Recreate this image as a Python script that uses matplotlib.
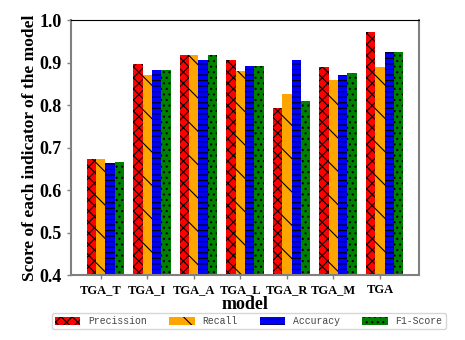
import matplotlib
matplotlib.use("Agg")
import matplotlib.pyplot as plt
import numpy as np

models = ["TGA_T", "TGA_I", "TGA_A", "TGA_L", "TGA_R", "TGA_M", "TGA"]
precision = [0.672, 0.896, 0.917, 0.907, 0.792, 0.889, 0.971]
recall = [0.672, 0.870, 0.917, 0.880, 0.825, 0.860, 0.889]
accuracy = [0.663, 0.882, 0.907, 0.893, 0.907, 0.870, 0.924]
f1_score = [0.665, 0.882, 0.917, 0.893, 0.809, 0.875, 0.926]

plt.rcParams["hatch.linewidth"] = 0.8

fig = plt.figure(figsize=(4.65, 3.4), dpi=100)
ax = fig.add_axes([0.1527, 0.191, 0.7484, 0.750])

x = np.arange(len(models))
width = 0.2
series = [
    (precision, "Precission", "red", "xxx"),
    (recall, "Recall", "orange", "\\"),
    (accuracy, "Accuracy", "blue", "---"),
    (f1_score, "F1-Score", "green", "..."),
]
for i, (vals, name, color, hatch) in enumerate(series):
    ax.bar(x + i * width, vals, width, color=color, hatch=hatch,
           edgecolor="black", linewidth=0, label=name)

ax.set_ylim(0.4, 1.0)
ax.set_xticks(x + width)
ax.set_xticklabels(models, fontsize=9, fontweight="bold", family="Liberation Serif")
ax.set_yticks([0.4, 0.5, 0.6, 0.7, 0.8, 0.9, 1.0])
ax.set_yticklabels([f"{v:.1f}" for v in ax.get_yticks()], fontsize=13,
                   fontweight="bold", family="Liberation Serif")
ax.set_xlabel("model", fontsize=13, fontweight="bold", family="Liberation Serif", labelpad=0)
ax.set_ylabel("Score of each indicator of the model", fontsize=12.5,
              fontweight="bold", family="Liberation Serif", labelpad=1)

for side in ["left", "right", "bottom"]:
    ax.spines[side].set_color("gray")
    ax.spines[side].set_linewidth(1.5)
ax.spines["top"].set_color("black")
ax.tick_params(axis="both", colors="gray", length=3, width=1)
for lab in ax.get_xticklabels() + ax.get_yticklabels():
    lab.set_color("black")

leg = fig.legend(loc="center", bbox_to_anchor=(0.535, 0.056), ncol=4,
                 prop={"family": "Liberation Mono", "size": 7},
                 handlelength=2.6, handleheight=0.9, handletextpad=0.8,
                 columnspacing=2.3, borderpad=0.35, frameon=True, fancybox=True)
for t in leg.get_texts():
    t.set_color("#444444")

plt.savefig("out.png", dpi=100)
